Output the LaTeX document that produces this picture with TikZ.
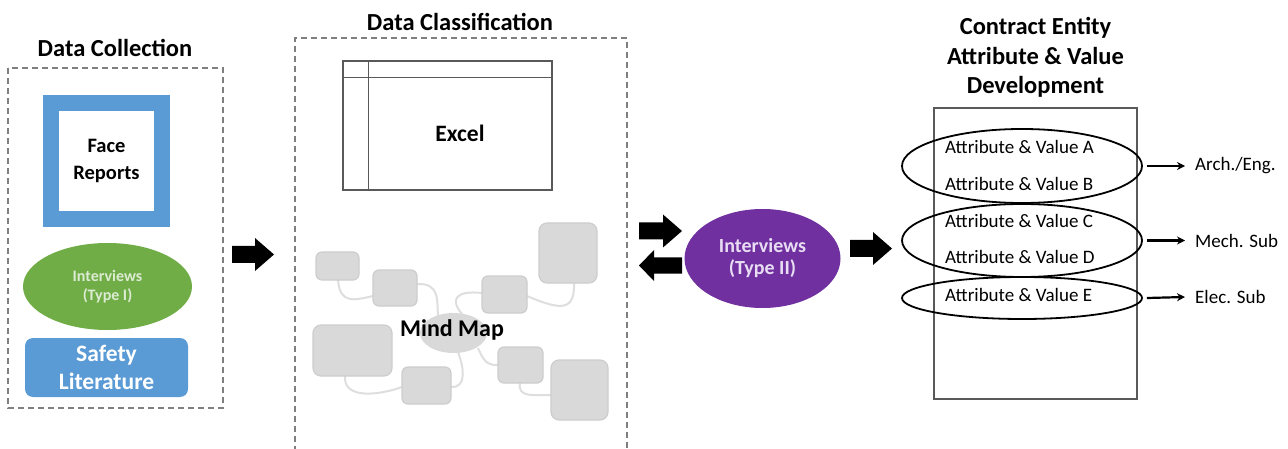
\documentclass[tikz,border=0pt]{standalone}
\usepackage{fontspec}
\setmainfont{Carlito}
\usetikzlibrary{shapes.geometric,arrows.meta}

\definecolor{offblue}{HTML}{5B9BD5}
\definecolor{offgreen}{HTML}{70AD47}
\definecolor{offpurple}{HTML}{7030A0}
\definecolor{palegreen}{HTML}{DCEBD2}
\definecolor{palepurple}{HTML}{E8DDF3}
\definecolor{boxgray}{HTML}{595959}
\definecolor{dashgray}{HTML}{7F7F7F}
\definecolor{mmfill}{HTML}{D9D9D9}
\definecolor{mmedge}{HTML}{CDCDCD}
\definecolor{mmlink}{HTML}{DEDEDE}

% filled block arrows: tail x, tip x, centre y
\newcommand\blockright[3]{%
  \fill (#1,#3-8.5) -- (#2-19,#3-8.5) -- (#2-19,#3-16.5) -- (#2,#3)
        -- (#2-19,#3+16.5) -- (#2-19,#3+8.5) -- (#1,#3+8.5) -- cycle;}
\newcommand\blockleft[3]{%
  \fill (#1,#3-8) -- (#2+15,#3-8) -- (#2+15,#3-15.5) -- (#2,#3)
        -- (#2+15,#3+15.5) -- (#2+15,#3+8) -- (#1,#3+8) -- cycle;}

\tikzset{
  title/.style={font=\bfseries\fontsize{24.5}{29.5}\selectfont, align=center, inner sep=0},
  group/.style={draw=dashgray, line width=1.3, dash pattern=on 6pt off 4pt},
  mmbox/.style={draw=mmedge, fill=mmfill, line width=1.2, rounded corners=6},
  mmlinkstyle/.style={draw=mmlink, line width=2},
  attr/.style={font=\fontsize{19}{22}\selectfont, anchor=west, inner sep=0},
  grp/.style={draw=black, line width=1.8},
  outlabel/.style={font=\fontsize{19}{22}\selectfont, anchor=west, inner sep=0},
  thinarrow/.style={-{Stealth[length=8,width=8]}, line width=2.2}
}

\begin{document}
\begin{tikzpicture}[x=1pt,y=-1pt]
\useasboundingbox (0,0) rectangle (1288,449);

% ---------- Data Collection ----------
\node[title] (tcoll) at (115,48) {Data Collection};
\draw[group] (8,68) rectangle (223,408);
\node[draw=offblue, line width=16, fill=white, minimum width=111, minimum height=116,
      inner sep=0, align=center, font=\bfseries\fontsize{20.5}{27}\selectfont]
      (face) at (106.5,161) {Face\\Reports};
\node[ellipse, fill=offgreen, minimum width=169, minimum height=87, inner sep=0,
      align=center, text=palegreen, font=\bfseries\fontsize{16}{19.5}\selectfont]
      (int1) at (107.5,286.5) {Interviews\\(Type I)};
\node[fill=offblue, rounded corners=8, minimum width=163, minimum height=59, inner sep=0,
      align=center, text=white, font=\bfseries\fontsize{23.5}{28}\selectfont]
      (safety) at (106.5,367.5) {Safety\\Literature};

\blockright{232}{274}{254.5}

% ---------- Data Classification ----------
\node[title] (tclass) at (460,22) {Data Classification};
\draw[group] (295,452) -- (295,38) -- (627,38) -- (627,452);

% spreadsheet sketch
\node[draw=boxgray, line width=1.4, minimum width=209, minimum height=129, inner sep=0]
      (excel) at (447.5,125.5) {};
\draw[boxgray, line width=1.4] (excel.north west) ++(0,17) -- ++(209,0);
\draw[boxgray, line width=1.4] (excel.north west) ++(26,0) -- ++(0,129);
\node[font=\bfseries\fontsize{23.5}{28}\selectfont, inner sep=0] (exceltxt) at (460,133) {Excel};

% mind map: links first, boxes on top
\coordinate (mc) at (453.5,333);
\coordinate (m1) at (337.5,266);
\coordinate (m2) at (395,288);
\coordinate (m3) at (504.5,294.5);
\coordinate (m4) at (568,253);
\coordinate (m5) at (352.5,350.5);
\coordinate (m6) at (426.5,385.5);
\coordinate (m7) at (520.5,365);
\coordinate (m8) at (579.5,390);
\draw[mmlinkstyle] (338,280) .. controls (340,305) and (355,300) .. (373,296);
\draw[mmlinkstyle] (417,284) .. controls (440,283) and (437,300) .. (438,318);
\draw[mmlinkstyle] (462,314) .. controls (450,300) and (455,290) .. (482,293);
\draw[mmlinkstyle] (527,296) .. controls (560,310) and (575,312) .. (574,283);
\draw[mmlinkstyle] (345,376) .. controls (343,400) and (380,395) .. (402,387);
\draw[mmlinkstyle] (451,387) .. controls (468,388) and (463,365) .. (458,352);
\draw[mmlinkstyle] (478,348) .. controls (485,365) and (490,365) .. (498,365);
\draw[mmlinkstyle] (520,383) .. controls (517,398) and (535,395) .. (551,395);

\node[mmbox, minimum width=43, minimum height=28, inner sep=0] (b1) at (m1) {};
\node[mmbox, minimum width=44, minimum height=36, inner sep=0] (b2) at (m2) {};
\node[mmbox, minimum width=45, minimum height=37, inner sep=0] (b3) at (m3) {};
\node[mmbox, minimum width=58, minimum height=60, inner sep=0, rounded corners=8] (b4) at (m4) {};
\node[mmbox, minimum width=79, minimum height=51, inner sep=0, rounded corners=8] (b5) at (m5) {};
\node[mmbox, minimum width=49, minimum height=37, inner sep=0] (b6) at (m6) {};
\node[mmbox, minimum width=45, minimum height=36, inner sep=0] (b7) at (m7) {};
\node[mmbox, minimum width=57, minimum height=60, inner sep=0, rounded corners=8] (b8) at (m8) {};
\node[ellipse, fill=mmfill, minimum width=67, minimum height=40, inner sep=0] (bc) at (mc) {};
\node[font=\bfseries\fontsize{24}{28}\selectfont, inner sep=0] (mmtxt) at (452,330) {Mind Map};

% ---------- Interviews (Type II) ----------
\blockright{639}{682}{231}
\blockleft{682}{639}{265.5}
\node[ellipse, fill=offpurple, minimum width=156, minimum height=99, inner sep=0,
      align=center, text=palepurple, font=\bfseries\fontsize{20}{22}\selectfont]
      (int2) at (762.5,258.5) {Interviews\\(Type II)};
\blockright{850}{892}{248.5}

% ---------- Contract Entity ----------
\node[title] (tcont) at (1035.5,57.5) {Contract Entity\\Attribute \& Value\\Development};
\node[draw=boxgray, line width=1.4, minimum width=203, minimum height=291, inner sep=0]
      (sheet) at (1035.5,253.5) {};

\node[attr] (a) at (945,147) {Attribute \& Value A};
\node[attr] (b) at (945,184) {Attribute \& Value B};
\node[attr] (c) at (945,221) {Attribute \& Value C};
\node[attr] (d) at (945,257) {Attribute \& Value D};
\node[attr] (e) at (945,295) {Attribute \& Value E};

\node[ellipse, grp, minimum width=240, minimum height=74, inner sep=0] (g1) at (1022,166) {};
\node[ellipse, grp, minimum width=240, minimum height=73, inner sep=0] (g2) at (1022,240.5) {};
\node[ellipse, grp, minimum width=240, minimum height=42, inner sep=0] (g3) at (1022,298) {};

\node[outlabel] (arch) at (1195,166) {Arch./Eng.};
\node[outlabel] (mech) at (1195,240.5) {Mech. Sub};
\node[outlabel] (elec) at (1195,297) {Elec. Sub};

\draw[thinarrow] ([xshift=4]g1.east) -- ([xshift=-10]arch.west);
\draw[thinarrow] ([xshift=4]g2.east) -- ([xshift=-10]mech.west);
\draw[thinarrow] ([xshift=4]g3.east) -- ([xshift=-10]elec.west);
\end{tikzpicture}
\end{document}
